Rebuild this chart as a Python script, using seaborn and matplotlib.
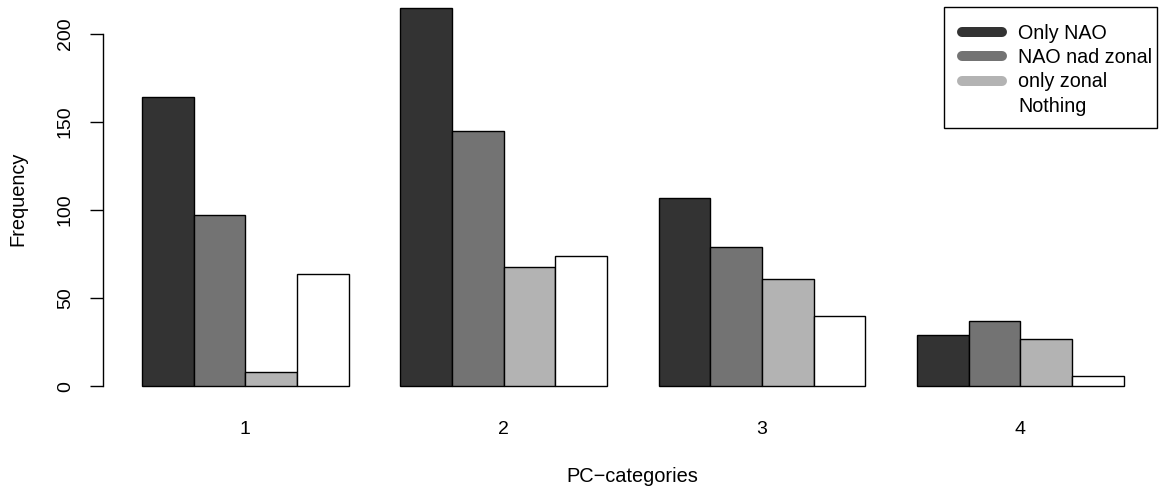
import numpy as np
import pandas as pd
import matplotlib
matplotlib.use("Agg")
import matplotlib.pyplot as plt
from matplotlib.lines import Line2D
from matplotlib.patches import Rectangle
import seaborn as sns

# Counts per PC category for each class
categories = ["1", "2", "3", "4"]
groups = ["Only NAO", "NAO nad zonal", "only zonal", "Nothing"]
only_nao = [164, 215, 107, 29]
nao_and_zonal = [97, 145, 79, 37]
only_zonal = [8, 68, 61, 27]
nothing = [64, 74, 40, 6]
colors = ["#333333", "#737373", "#B3B3B3", "#FFFFFF"]

df = pd.DataFrame({
    "category": categories * 4,
    "group": np.repeat(groups, 4),
    "count": only_nao + nao_and_zonal + only_zonal + nothing,
})

sns.set_style("white")
plt.rcParams["font.family"] = ["Liberation Sans", "DejaVu Sans"]
plt.rcParams.update({"text.color": "black", "axes.labelcolor": "black",
                     "xtick.color": "black", "ytick.color": "black"})

W, H = 1161, 487
fig = plt.figure(figsize=(W / 100, H / 100), dpi=100)
left_px, bottom_px = 102.7, 401.5
ax = fig.add_axes([left_px / W, (H - bottom_px) / H, (W - left_px) / W, bottom_px / H])

sns.barplot(data=df, x="category", y="count", hue="group", order=categories,
            hue_order=groups, palette=colors, width=0.8, gap=0,
            edgecolor="black", linewidth=1.0, saturation=1, ax=ax, legend=False)

ax.set_xlim(-0.552, 3.544)
ax.set_ylim(-8.6, 219.3)
ax.set_yticks([0, 50, 100, 150, 200])
ax.set_yticklabels(["0", "50", "100", "150", "200"], rotation=90, va="center")

for s in ["top", "right", "bottom"]:
    ax.spines[s].set_visible(False)
ax.spines["left"].set_bounds(0, 200)
ax.spines["left"].set_color("black")
ax.spines["left"].set_linewidth(1.0)
ax.tick_params(axis="y", length=9.4, width=1.0, pad=11.3, labelsize=14,
               direction="out", left=True, color="black")
ax.tick_params(axis="x", length=0, pad=14, labelsize=14)

ax.set_xlabel("PC\u2212categories", fontsize=14.4)
ax.set_ylabel("Frequency", fontsize=14.4)
ax.xaxis.label.set_va("center")
ax.yaxis.label.set_va("center")
ax.xaxis.set_label_coords(0.5, -0.188)
ax.yaxis.set_label_coords(-0.080, 0.504)

# Legend entries, with a plain box drawn around them
handles = [Line2D([0], [0], color=c, lw=7.2, solid_capstyle="round") for c in colors]
leg = ax.legend(handles, groups, loc="upper left",
                bbox_to_anchor=(948 / W, 1 - 10 / H), bbox_transform=fig.transFigure,
                fontsize=14.2, frameon=False, borderpad=0.7, handlelength=2.05,
                handletextpad=0.8, labelspacing=0.27, borderaxespad=0)
box = Rectangle((944 / W, 1 - 128 / H), (1157 - 944) / W, (128 - 7) / H,
                transform=fig.transFigure, fill=False, edgecolor="black",
                linewidth=1.0, zorder=5)
fig.patches.append(box)

fig.savefig("out.png", dpi=100, facecolor="white")
